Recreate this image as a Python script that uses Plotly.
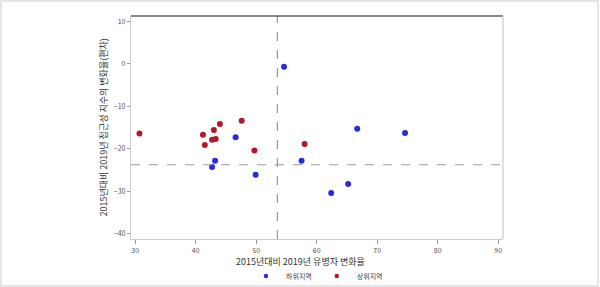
import plotly.graph_objects as go

# Data
low_x = [54.6, 66.7, 74.6, 46.6, 57.5, 43.2, 42.7, 49.9, 62.4, 65.2]
low_y = [-0.7, -15.3, -16.3, -17.3, -22.8, -22.8, -24.3, -26.1, -30.4, -28.3]
high_x = [30.7, 41.2, 41.5, 43.0, 44.0, 47.6, 42.7, 43.3, 49.7, 58.0]
high_y = [-16.4, -16.7, -19.1, -15.6, -14.2, -13.4, -17.9, -17.7, -20.4, -18.9]
ref_x = 53.5
ref_y = -23.75
x_ticks = [30, 40, 50, 60, 70, 80, 90]
y_ticks = [10, 0, -10, -20, -30, -40]
x_title = "2015년대비 2019년 유병자 변화율"
y_title = "2015년대비 2019년 접근성 지수의 변화율(편차)"
series_names = ["하위지역", "상위지역"]
series_colors = ["#2a2ae0", "#b2182b"]

FONT = "Noto Sans CJK KR"
L, R, T, B = 131, 97, 16, 48
PW, PH = 600 - L - R, 287 - T - B

fig = go.Figure()
for (xs, ys), name, col in zip([(low_x, low_y), (high_x, high_y)], series_names, series_colors):
    fig.add_trace(go.Scatter(x=xs, y=ys, mode="markers", name=name, legendgroup=name,
                             showlegend=False, marker=dict(color=col, size=6)))
    # legend entry with the smaller legend symbol of the reference
    fig.add_trace(go.Scatter(x=[None], y=[None], mode="markers", name=name, legendgroup=name,
                             marker=dict(color=col, size=4.5)))

fig.add_vline(x=ref_x, line=dict(color="#999999", width=1.2, dash="dash"))
fig.add_hline(y=ref_y, line=dict(color="#999999", width=1.2, dash="dash"))

# top black border, right gray border of the plot area
fig.add_shape(type="line", xref="paper", yref="paper", x0=0, x1=1, y0=1, y1=1,
              line=dict(color="#111111", width=1.2))
fig.add_shape(type="line", xref="paper", yref="paper", x0=1, x1=1, y0=0, y1=1,
              line=dict(color="#cccccc", width=1.2))
# page frame
fig.add_shape(type="rect", xref="paper", yref="paper",
              x0=(1 - L) / PW, x1=(598 - L) / PW,
              y0=(PH + T - 286) / PH, y1=(PH + T - 1) / PH,
              line=dict(color="#dddddd", width=1.5), layer="below")

# axis titles
fig.add_annotation(text=x_title, xref="paper", yref="paper",
                   x=(300 - L) / PW, y=(PH + T - 261) / PH,
                   showarrow=False, xanchor="center", yanchor="middle",
                   font=dict(size=9, color="#333333"))
fig.add_annotation(text=y_title, xref="paper", yref="paper",
                   x=(103 - L) / PW, y=0.5, textangle=-90,
                   showarrow=False, xanchor="center", yanchor="middle",
                   font=dict(size=9, color="#333333"))

fig.update_layout(
    width=600, height=287,
    margin=dict(l=L, r=R, t=T, b=B, autoexpand=False),
    paper_bgcolor="white", plot_bgcolor="white",
    font=dict(family=FONT, color="#444444", size=8),
    showlegend=True,
    legend=dict(orientation="h", x=0.5, xanchor="center",
                yref="container", y=1 - 276 / 287, yanchor="middle",
                font=dict(size=7, color="#444444"), itemsizing="trace",
                itemwidth=30, tracegroupgap=0, bgcolor="rgba(0,0,0,0)"),
    xaxis=dict(range=[29.3, 90.8], tickvals=x_ticks, showgrid=False, zeroline=False,
               showline=True, linecolor="#cccccc", linewidth=1.2,
               ticks="outside", ticklen=4, tickcolor="#999999",
               tickfont=dict(size=7, color="#555555"), automargin=False),
    yaxis=dict(range=[-41.2, 11.2], tickvals=y_ticks, showgrid=False, zeroline=False,
               showline=True, linecolor="#cccccc", linewidth=1.2,
               ticks="outside", ticklen=3, tickcolor="#999999",
               tickfont=dict(size=7, color="#555555"), automargin=False),
)

fig.write_html("out.html")
